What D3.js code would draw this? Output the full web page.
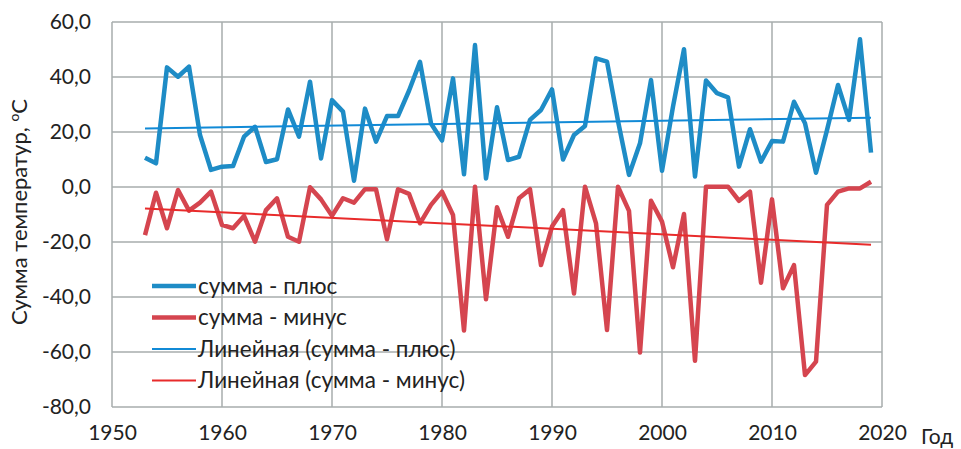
<!DOCTYPE html>
<html>
<head>
<meta charset="utf-8">
<script src="https://cdn.jsdelivr.net/npm/d3@7"></script>
<style>
  body { margin: 0; background: #fff; }
  svg text { font-family: Lato, "Open Sans", sans-serif; fill: #222; }
</style>
</head>
<body>
<div id="chart"></div>
<script>
// years 1953..2019
var years = d3.range(1953, 2020);

var sumPlus = [10.6, 8.6, 43.5, 40.1, 43.8, 18.9, 6.2, 7.4, 7.6, 18.3,
               21.9, 9.1, 10.1, 28.2, 18.3, 38.3, 10.4, 31.6, 27.4, 2.3,
               28.5, 16.5, 25.8, 25.8, 35.0, 45.5, 23.1, 16.9, 39.5, 4.6,
               51.6, 3.1, 29.0, 9.8, 11.0, 24.4, 28.0, 35.5, 10.0, 18.9,
               22.2, 46.8, 45.6, 24.0, 4.4, 15.9, 38.9, 5.9, 29.2, 50.1,
               3.8, 38.7, 34.1, 32.6, 7.4, 21.0, 9.2, 16.7, 16.5, 31.0,
               23.2, 5.2, 20.7, 37.1, 24.4, 53.7, 12.5];

var sumMinus = [-17.5, -2.1, -15.0, -1.1, -8.6, -5.7, -1.7, -13.8, -15.0, -10.5,
                -19.9, -8.4, -4.1, -18.1, -19.9, -0.1, -4.5, -10.5, -4.1, -5.7,
                -0.8, -0.8, -19.0, -0.8, -2.5, -13.2, -6.5, -1.7, -10.2, -52.2,
                0.1, -40.8, -7.4, -18.1, -4.1, -0.8, -28.4, -14.4, -8.4, -38.7,
                0.1, -13.2, -52.0, 0.1, -8.7, -60.2, -5.0, -12.6, -29.2, -9.8,
                -63.2, 0.1, 0.1, 0.1, -5.0, -1.7, -34.8, -4.5, -36.8, -28.4,
                -68.4, -63.5, -6.5, -1.7, -0.5, -0.5, 1.9];

// linear trend end points (1953, 2019)
var trendPlus = [21.3, 25.2];
var trendMinus = [-7.8, -21.0];

var xTicks = [1950, 1960, 1970, 1980, 1990, 2000, 2010, 2020];
var yTicks = [-80, -60, -40, -20, 0, 20, 40, 60];

var legendLabels = ['сумма - плюс', 'сумма - минус',
                    'Линейная (сумма - плюс)', 'Линейная (сумма - минус)'];

var width = 961, height = 449;
var plotLeft = 112, plotRight = 882, plotTop = 22, plotBottom = 407;

var svg = d3.select('#chart').append('svg')
    .attr('width', width)
    .attr('height', height);

var x = d3.scaleLinear().domain([1950, 2020]).range([plotLeft, plotRight]);
var y = d3.scaleLinear().domain([-80, 60]).range([plotBottom, plotTop]);

var gridColor = '#a7adad';
var font = 'Lato, "Open Sans", sans-serif';

// grid
svg.append('g').selectAll('line')
    .data(yTicks).enter().append('line')
    .attr('x1', plotLeft).attr('x2', plotRight)
    .attr('y1', d => y(d)).attr('y2', d => y(d))
    .attr('stroke', gridColor).attr('stroke-width', 1.5);

svg.append('g').selectAll('line')
    .data(xTicks).enter().append('line')
    .attr('x1', d => x(d)).attr('x2', d => x(d))
    .attr('y1', plotTop).attr('y2', plotBottom)
    .attr('stroke', gridColor).attr('stroke-width', 1.5);

// axes labels
var yAxis = d3.axisLeft(y).tickValues(yTicks)
    .tickSize(0).tickPadding(21)
    .tickFormat(d => d.toFixed(1).replace('.', ','));
var gy = svg.append('g').attr('transform', 'translate(' + plotLeft + ',0)').call(yAxis);
gy.select('.domain').remove();
gy.selectAll('text').attr('font-size', 21).style('fill', '#222')
    .attr('font-family', font);

var xAxis = d3.axisBottom(x).tickValues(xTicks)
    .tickSize(0).tickPadding(18)
    .tickFormat(d3.format('d'));
var gx = svg.append('g').attr('transform', 'translate(0,' + plotBottom + ')').call(xAxis);
gx.select('.domain').remove();
gx.selectAll('text').attr('font-size', 21).style('fill', '#222')
    .attr('font-family', font);

svg.append('text')
    .attr('x', 921).attr('y', 444)
    .attr('font-size', 21)
    .text('Год');

// y title
var yt = svg.append('text')
    .attr('transform', 'translate(27,' + 212 + ') rotate(-90)')
    .attr('text-anchor', 'middle')
    .attr('font-size', 22);
yt.append('tspan').text('Сумма температур, ');
yt.append('tspan').attr('font-size', 14).attr('dy', -8).text('о');
yt.append('tspan').attr('dy', 8).text('С');

// lines
var line = d3.line()
    .x((d, i) => x(years[i]))
    .y(d => y(d));

var blue = '#1e8cc6', red = '#d5454f';
var blueTrend = '#118ad6', redTrend = '#e82b2b';

var trendYears = [years[0], years[years.length - 1]];
var trendLine = d3.line()
    .x((d, i) => x(trendYears[i]))
    .y(d => y(d));

svg.append('path').datum(sumPlus)
    .attr('d', line).attr('fill', 'none')
    .attr('stroke', blue).attr('stroke-width', 4.5)
    .attr('stroke-linejoin', 'round');

svg.append('path').datum(sumMinus)
    .attr('d', line).attr('fill', 'none')
    .attr('stroke', red).attr('stroke-width', 4.5)
    .attr('stroke-linejoin', 'round');

svg.append('path').datum(trendPlus)
    .attr('d', trendLine).attr('fill', 'none')
    .attr('stroke', blueTrend).attr('stroke-width', 2);

svg.append('path').datum(trendMinus)
    .attr('d', trendLine).attr('fill', 'none')
    .attr('stroke', redTrend).attr('stroke-width', 2);

// legend
var legendColors = [blue, red, blueTrend, redTrend];
var legendWidths = [4.5, 4.5, 2, 2];
var legend = svg.append('g');
legendLabels.forEach(function(label, i) {
    var ly = 286 + i * 31.5;
    legend.append('line')
        .attr('x1', 152).attr('x2', 196)
        .attr('y1', ly).attr('y2', ly)
        .attr('stroke', legendColors[i])
        .attr('stroke-width', legendWidths[i]);
    legend.append('text')
        .attr('x', 198).attr('y', ly + 7.5)
        .attr('font-size', 22.5)
        .text(label);
});
</script>
</body>
</html>
